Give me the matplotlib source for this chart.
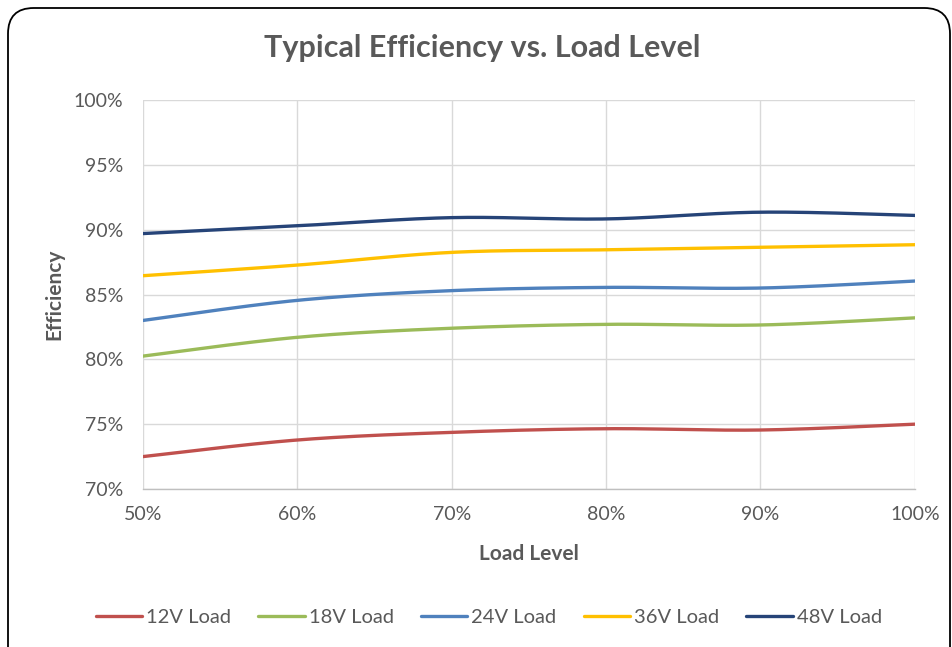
import numpy as np
import matplotlib
matplotlib.use("Agg")
import matplotlib.pyplot as plt
from matplotlib.patches import FancyBboxPatch
from matplotlib.ticker import FuncFormatter

load_levels = [50, 60, 70, 80, 90, 100]
series_names = ["12V Load", "18V Load", "24V Load", "36V Load", "48V Load"]
eff_12v = [72.5, 73.78, 74.37, 74.65, 74.55, 75.0]
eff_18v = [80.25, 81.7, 82.4, 82.7, 82.65, 83.2]
eff_24v = [83.0, 84.55, 85.3, 85.55, 85.5, 86.04]
eff_36v = [86.45, 87.27, 88.25, 88.45, 88.64, 88.84]
eff_48v = [89.7, 90.3, 90.93, 90.83, 91.35, 91.1]
colors = ["#C0504D", "#9BBB59", "#4F81BD", "#FFC000", "#264478"]

plt.rcParams['font.family'] = ['Lato', 'DejaVu Sans']

def smooth(x, y, n=40, t=1/6):
    x = np.asarray(x, float); y = np.asarray(y, float)
    sx = (x.max() - x.min())
    X = x / sx; Y = y / 60.0
    xs, ys = [], []
    N = len(x)
    for i in range(N - 1):
        p0 = np.array([X[max(i-1, 0)], Y[max(i-1, 0)]])
        p1 = np.array([X[i], Y[i]])
        p2 = np.array([X[i+1], Y[i+1]])
        p3 = np.array([X[min(i+2, N-1)], Y[min(i+2, N-1)]])
        c1 = p1 + (p2 - p0) * t
        c2 = p2 - (p3 - p1) * t
        s = np.linspace(0, 1, n)[:, None]
        pts = ((1-s)**3)*p1 + 3*((1-s)**2)*s*c1 + 3*(1-s)*s**2*c2 + s**3*p2
        xs.extend(pts[:, 0]); ys.extend(pts[:, 1])
    return np.array(xs) * sx, np.array(ys) * 60.0

fig = plt.figure(figsize=(9.53, 6.47), dpi=100)
ax = fig.add_axes([0.150, 0.2442, 0.810, 0.6012])

all_series = [eff_12v, eff_18v, eff_24v, eff_36v, eff_48v]
for name, vals, c in zip(series_names, all_series, colors):
    sx, sy = smooth(load_levels, vals)
    ax.plot(sx, sy, color=c, lw=2.4, label=name, solid_capstyle='round')

ax.set_xlim(50, 100)
ax.set_ylim(70, 100)
ax.set_xticks(load_levels)
ax.set_yticks(np.arange(70, 101, 5))
ax.xaxis.set_major_formatter(FuncFormatter(lambda v, p: f"{v:.0f}%"))
ax.yaxis.set_major_formatter(FuncFormatter(lambda v, p: f"{v:.0f}%"))
ax.grid(True, color="#D9D9D9", lw=1)
ax.set_axisbelow(True)
for s in ["top", "right", "left"]:
    ax.spines[s].set_visible(False)
ax.spines["bottom"].set_color("#BFBFBF")
ax.spines["bottom"].set_linewidth(1)
ax.tick_params(length=0, labelsize=14, colors="#595959")
ax.tick_params(axis='y', pad=14)
ax.tick_params(axis='x', pad=12)
ax.set_xlabel("Load Level", fontsize=15, fontweight='bold', color="#595959", labelpad=15)
ax.set_ylabel("Efficiency", fontsize=15, fontweight='bold', color="#595959", labelpad=7)

fig.text(0.506, 0.926, "Typical Efficiency vs. Load Level", ha='center', va='center',
         fontsize=22, fontweight='bold', color="#595959")

leg = fig.legend(loc='center', bbox_to_anchor=(0.513, 0.046), ncol=5, frameon=False,
                 fontsize=14.5, handlelength=2.3, handletextpad=0.2, columnspacing=1.35)
for t in leg.get_texts():
    t.set_color("#595959")

border = FancyBboxPatch((8/953, -0.05), (950-8)/953, 1.05 - 8/647,
                        boxstyle="round,pad=0,rounding_size=0.027",
                        transform=fig.transFigure, fill=False, ec="black", lw=1.3,
                        mutation_aspect=953/647)
fig.patches.append(border)

fig.savefig("out.png", dpi=100, facecolor="white")
